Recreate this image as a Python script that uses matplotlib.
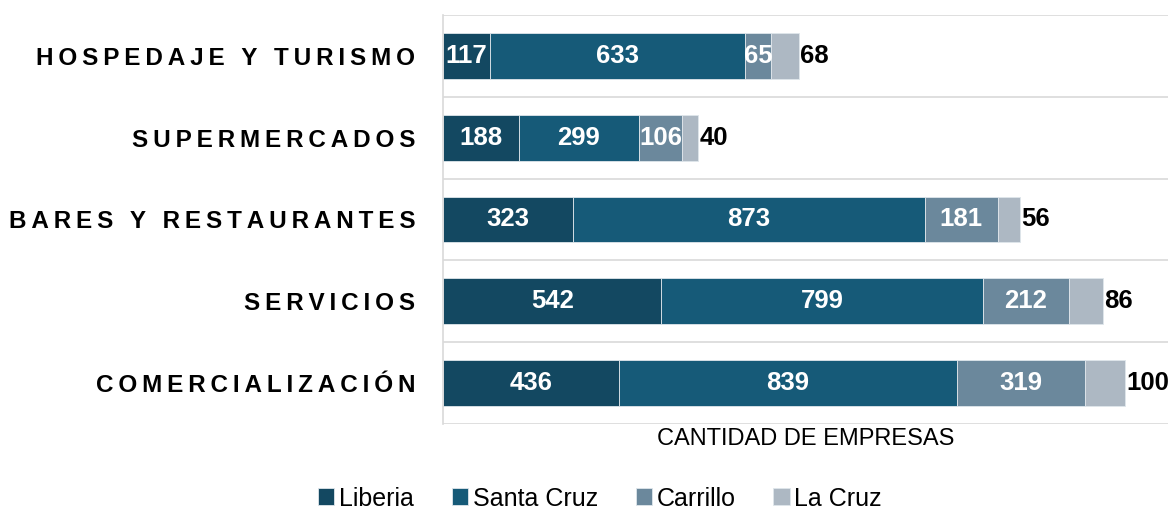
import matplotlib.pyplot as plt
import numpy as np

plt.rcParams["font.family"] = ["Liberation Sans", "DejaVu Sans"]

categories = ["HOSPEDAJE Y TURISMO", "SUPERMERCADOS", "BARES Y RESTAURANTES",
              "SERVICIOS", "COMERCIALIZACIÓN"]
series_names = ["Liberia", "Santa Cruz", "Carrillo", "La Cruz"]
liberia = [117, 188, 323, 542, 436]
santa_cruz = [633, 299, 873, 799, 839]
carrillo = [65, 106, 181, 212, 319]
la_cruz = [68, 40, 56, 86, 100]
colors = ["#134861", "#165A78", "#6B889C", "#ADB8C3"]


def spaced(s):
    # letter-spaced look of the original labels
    return "\u2009".join(s)


fig = plt.figure(figsize=(11.73, 5.2), dpi=100)
ax = fig.add_axes([443 / 1173, 1 - 424 / 520, (1168 - 443) / 1173, (424 - 15) / 520])

y = np.arange(len(categories))
left = np.zeros(len(categories))
for name, vals, col in zip(series_names, [liberia, santa_cruz, carrillo, la_cruz], colors):
    vals = np.array(vals)
    ax.barh(y, vals, left=left, height=0.56, color=col, label=name,
            edgecolor="#dfe6eb", linewidth=0.6)
    if name == "La Cruz":
        for yi, l, v in zip(y, left, vals):
            ax.text(l + v + 3, yi, str(v), ha="left", va="center",
                    fontsize=18.5, fontweight="bold", color="black")
    else:
        for yi, l, v in zip(y, left, vals):
            ax.text(l + v / 2, yi, str(v), ha="center", va="center",
                    fontsize=18.5, fontweight="bold", color="white")
    left = left + vals

ax.set_xlim(0, 1800)
ax.set_ylim(len(categories) - 0.5, -0.5)
ax.set_yticks(y)
ax.set_yticklabels([spaced(c) for c in categories], fontsize=17.5, fontweight="bold")
ax.tick_params(axis="y", length=0, pad=20)
ax.set_xticks([])
for b in np.arange(-0.5, len(categories), 1.0):
    ax.axhline(b, color="#d9d9d9", linewidth=1.2, zorder=0)

for side in ["top", "right", "bottom"]:
    ax.spines[side].set_visible(False)
ax.spines["left"].set_color("#d9d9d9")
ax.spines["left"].set_linewidth(1.2)

ax.set_xlabel("CANTIDAD DE EMPRESAS", fontsize=17, labelpad=3)

fig.legend(loc="lower center", bbox_to_anchor=(600 / 1173, -0.025), ncol=4,
           frameon=False, fontsize=18, handlelength=0.65, handleheight=0.65,
           handletextpad=0.2, columnspacing=1.5)

fig.savefig("out.png", dpi=100)
